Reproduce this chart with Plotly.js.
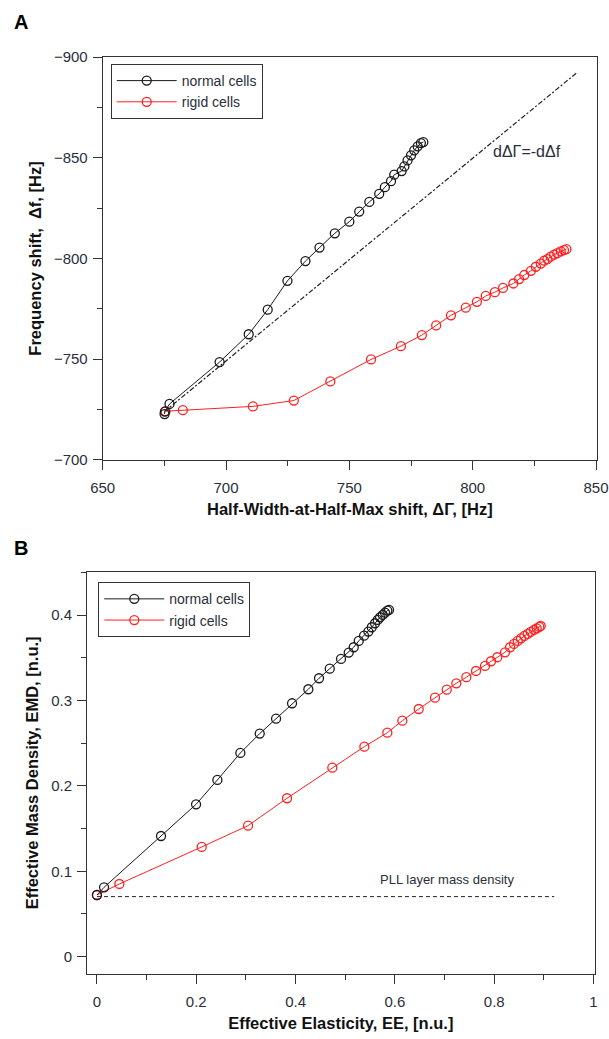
<!DOCTYPE html>
<html>
<head>
<meta charset="utf-8">
<script src="https://cdn.plot.ly/plotly-3.0.1.min.js"></script>
<style>html,body{margin:0;padding:0;background:#fff;}#chart{width:609px;height:1039px;}</style>
</head>
<body>
<div id="chart"></div>
<script>
// ---------- Panel A data ----------
var normalA_x = [675.1, 675.2, 677.1, 697.4, 709.2, 716.9, 724.9, 732.2, 737.9, 744.1, 750.0, 754.0, 758.1, 762.1, 764.4, 766.9, 768.2, 771.2, 772.3, 773.6, 775.0, 776.3, 777.7, 779.0, 780.0];
var normalA_y = [-722.8, -724.0, -727.8, -748.6, -762.4, -774.6, -788.9, -798.7, -805.4, -812.5, -818.3, -823.3, -828.1, -832.1, -835.4, -838.4, -841.6, -843.4, -845.7, -848.7, -851.2, -853.7, -855.7, -857.3, -857.8];
var rigidA_x = [675.5, 682.5, 710.9, 727.5, 742.3, 758.8, 770.9, 779.4, 785.2, 791.2, 797.2, 801.7, 805.3, 809.0, 812.3, 816.5, 818.8, 820.9, 823.6, 825.6, 827.6, 829.0, 830.3, 831.6, 833.0, 834.3, 835.7, 837.0, 838.0];
var rigidA_y = [-724.2, -724.7, -726.6, -729.5, -739.0, -749.9, -756.5, -762.0, -766.8, -771.8, -775.6, -778.5, -781.4, -783.3, -785.4, -787.6, -789.8, -791.8, -793.9, -795.9, -797.5, -798.9, -799.7, -800.9, -801.9, -802.7, -803.5, -804.2, -804.7];
var diagA_x = [675, 842];
var diagA_y = [-724, -892];

// ---------- Panel B data ----------
var normalB_x = [0.0, 0.0143, 0.129, 0.1996, 0.2425, 0.2888, 0.3278, 0.3607, 0.3929, 0.4257, 0.4472, 0.4688, 0.4915, 0.507, 0.5171, 0.5272, 0.5379, 0.5465, 0.5534, 0.56, 0.5654, 0.5701, 0.5755, 0.5802, 0.5848, 0.5882];
var normalB_y = [0.0722, 0.0812, 0.1413, 0.1784, 0.2069, 0.2385, 0.2612, 0.2787, 0.2967, 0.3131, 0.326, 0.3372, 0.3486, 0.356, 0.3623, 0.3697, 0.3759, 0.3806, 0.3857, 0.3904, 0.3943, 0.3974, 0.4001, 0.4028, 0.4052, 0.406];
var rigidB_x = [0.0, 0.0451, 0.211, 0.3043, 0.3828, 0.474, 0.5385, 0.5848, 0.615, 0.648, 0.6808, 0.7044, 0.7237, 0.7439, 0.7634, 0.7815, 0.7936, 0.8063, 0.8218, 0.8319, 0.8399, 0.8474, 0.854, 0.8607, 0.8675, 0.8735, 0.8802, 0.8856, 0.8908, 0.8937];
var rigidB_y = [0.0722, 0.0851, 0.1285, 0.1534, 0.1855, 0.2213, 0.2459, 0.2623, 0.2763, 0.29, 0.3033, 0.3126, 0.3201, 0.3272, 0.3345, 0.3404, 0.3459, 0.3506, 0.3564, 0.3623, 0.3662, 0.3697, 0.3728, 0.3755, 0.3779, 0.3802, 0.3826, 0.3845, 0.3861, 0.3872];
var pllB_x = [0, 0.921];
var pllB_y = [0.0703, 0.0703];

var seriesNames = ['normal cells', 'rigid cells'];
var labelDiag = 'dΔΓ=-dΔf';
var labelPLL = 'PLL layer mass density';

var FONT = '"Liberation Sans", Arial, sans-serif';
var BLACK = '#1a1a1a', RED = '#ff2020';

function series(x, y, name, color, xa, ya, lg, rank) {
  return {
    x: x, y: y, name: name, type: 'scatter', mode: 'lines+markers',
    xaxis: xa, yaxis: ya, legend: lg, legendrank: rank,
    line: {color: color, width: 1},
    marker: {symbol: 'circle-open', size: 9, color: color, line: {width: 1.3, color: color}}
  };
}

var traces = [
  {x: diagA_x, y: diagA_y, type: 'scatter', mode: 'lines', xaxis: 'x', yaxis: 'y', showlegend: false,
   line: {color: '#222', width: 1.2, dash: '5px,2px,2px,2px'}, hoverinfo: 'skip'},
  series(rigidA_x, rigidA_y, seriesNames[1], RED, 'x', 'y', 'legend', 2),
  series(normalA_x, normalA_y, seriesNames[0], BLACK, 'x', 'y', 'legend', 1),
  {x: pllB_x, y: pllB_y, type: 'scatter', mode: 'lines', xaxis: 'x2', yaxis: 'y2', showlegend: false,
   line: {color: '#222', width: 1, dash: '4px,3px'}, hoverinfo: 'skip'},
  series(rigidB_x, rigidB_y, seriesNames[1], RED, 'x2', 'y2', 'legend2', 2),
  series(normalB_x, normalB_y, seriesNames[0], BLACK, 'x2', 'y2', 'legend2', 1)
];

function minorTicks(dt) {
  return {ticks: 'outside', ticklen: 5, tickwidth: 1, tickcolor: '#333', dtick: dt, showgrid: false};
}
function axis(extra) {
  var a = {
    showline: true, mirror: true, linecolor: '#333', linewidth: 1,
    ticks: 'outside', ticklen: 9, tickwidth: 1, tickcolor: '#333',
    showgrid: false, zeroline: false,
    tickfont: {family: FONT, size: 15, color: '#2a2f3a'}
  };
  for (var k in extra) a[k] = extra[k];
  return a;
}
var titleFont = {family: FONT, size: 16.5, color: '#111', weight: 'bold'};

var layout = {
  width: 609, height: 1039,
  margin: {l: 0, r: 0, t: 0, b: 0},
  paper_bgcolor: '#fff', plot_bgcolor: '#fff',
  font: {family: FONT, color: '#222'},
  xaxis: axis({domain: [0.1686, 0.9803], anchor: 'y', range: [650, 850.4], dtick: 50, tick0: 650,
    minor: minorTicks(25), ticklabelstandoff: 5,
    title: {text: 'Half-Width-at-Half-Max shift, ΔΓ, [Hz]', font: titleFont, standoff: 8}}),
  yaxis: axis({domain: [0.5573, 0.9451], anchor: 'x', range: [-700, -900], dtick: 50, tick0: -900,
    minor: minorTicks(25), ticklabelstandoff: 2,
    title: {text: 'Frequency shift,  Δf, [Hz]', font: titleFont, standoff: 8}}),
  xaxis2: axis({domain: [0.1429, 0.9762], anchor: 'y2', range: [-0.02, 1.002], dtick: 0.2, tick0: 0,
    minor: minorTicks(0.1), ticklabelstandoff: 5,
    title: {text: 'Effective Elasticity, EE, [n.u.]', font: titleFont, standoff: 8}}),
  yaxis2: axis({domain: [0.0624, 0.4498], anchor: 'x2', range: [-0.0205, 0.4508], dtick: 0.1, tick0: 0,
    minor: minorTicks(0.05), ticklabelstandoff: 2,
    title: {text: 'Effective Mass Density, EMD, [n.u.]', font: titleFont, standoff: 8}}),
  legend: {x: 0.1818, y: 0.9384, xanchor: 'left', yanchor: 'top', bgcolor: '#fff',
    bordercolor: '#333', borderwidth: 1, itemwidth: 60, traceorder: 'normal',
    font: {family: FONT, size: 14, color: '#2a2f3a'}},
  legend2: {x: 0.1614, y: 0.4396, xanchor: 'left', yanchor: 'top', bgcolor: '#fff',
    bordercolor: '#333', borderwidth: 1, itemwidth: 60, traceorder: 'normal',
    font: {family: FONT, size: 14, color: '#2a2f3a'}},
  annotations: [
    {text: labelDiag, xref: 'x', yref: 'y', x: 822, y: -853, showarrow: false,
     font: {family: FONT, size: 16, color: '#2a2f3a'}},
    {text: labelPLL, xref: 'x2', yref: 'y2', x: 0.7044, y: 0.0898, showarrow: false,
     font: {family: FONT, size: 13, color: '#2a2f3a'}},
    {text: '<b>A</b>', xref: 'paper', yref: 'paper', x: 20.5 / 609, y: 1 - 22 / 1039, showarrow: false,
     xanchor: 'center', yanchor: 'middle', font: {family: FONT, size: 20, color: '#000'}},
    {text: '<b>B</b>', xref: 'paper', yref: 'paper', x: 20.5 / 609, y: 1 - 548 / 1039, showarrow: false,
     xanchor: 'center', yanchor: 'middle', font: {family: FONT, size: 20, color: '#000'}}
  ]
};

Plotly.newPlot('chart', traces, layout, {displayModeBar: false, staticPlot: true});
</script>
</body>
</html>
